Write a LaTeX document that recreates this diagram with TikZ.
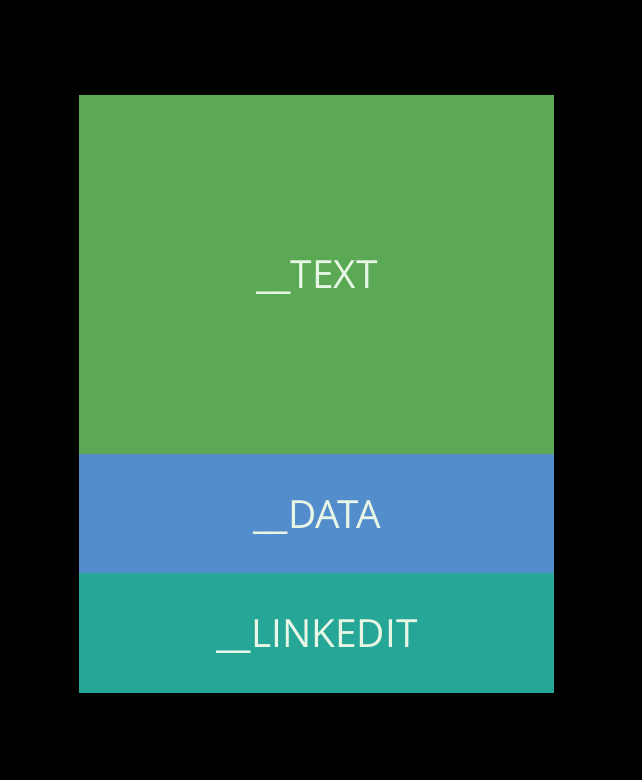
\documentclass[tikz,border=0pt]{standalone}
\usepackage{fontspec}
\setmainfont{Open Sans}
\definecolor{segtext}{RGB}{91,169,84}
\definecolor{segdata}{RGB}{84,141,204}
\definecolor{seglink}{RGB}{38,166,150}
\definecolor{labelcol}{RGB}{232,246,230}
\begin{document}
\begin{tikzpicture}[x=1bp,y=-1bp,
  lbl/.style={text=labelcol,font=\fontsize{39}{45}\selectfont,inner sep=0pt}]
\fill[black] (0,0) rectangle (642,780);
\useasboundingbox (0,0) rectangle (642,780);
\fill[segtext] (79,95) rectangle (554,454);
\fill[segdata] (79,454) rectangle (554,573);
\fill[seglink] (79,573) rectangle (554,693);
\node[lbl] (t) at (317,278) {\_\_TEXT};
\node[lbl] (d) at (317,518) {\_\_DATA};
\node[lbl] (l) at (317,637) {\_\_LINKEDIT};
\end{tikzpicture}
\end{document}
